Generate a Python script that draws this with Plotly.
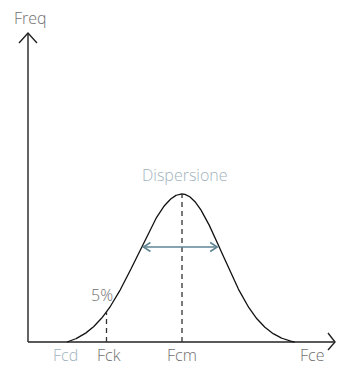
import numpy as np
import plotly.graph_objects as go

# Characteristic values of the strength distribution (arbitrary units, origin at axes corner)
fcd = 39.0          # design strength (lower end of curve)
fck = 78.5          # characteristic strength (5% fractile)
fcm = 154.0         # mean strength
fce = 266.5         # upper end of curve
peak = 148.0        # peak frequency
sigma_left = 44.0
sigma_right = 40.0
spread_level = 95.0  # height of the dispersion arrow

x_axis_end = 307.0
y_axis_end = 309.0
head = 9.0           # axis arrow head size
small_head = 7.0     # dispersion arrow head size

tick_names = ["Fcd", "Fck", "Fcm", "Fce"]
tick_colors = ["#9fb3bd", "#707070", "#707070", "#707070"]


def density(x):
    """Split normal, shifted so it reaches zero at fcd and fce."""
    s = np.where(x < fcm, sigma_left, sigma_right)
    end = np.where(x < fcm, fcm - fcd, fce - fcm)
    g = np.exp(-(x - fcm) ** 2 / (2 * s ** 2))
    c = np.exp(-end ** 2 / (2 * s ** 2))
    return peak * (g - c) / (1 - c)


def crossing(level, side):
    xs = np.linspace(fcd, fcm, 2000) if side < 0 else np.linspace(fcm, fce, 2000)
    ys = density(xs)
    return float(xs[np.argmin(np.abs(ys - level))])


xs = np.linspace(fcd, fce, 600)
ys = density(xs)

fig = go.Figure()
axis_color = "#222222"

# axes with open arrow heads
fig.add_trace(go.Scatter(x=[0, 0, None, -head, 0, head], y=[0, y_axis_end, None, y_axis_end - 10, y_axis_end, y_axis_end - 10],
                         mode="lines", line=dict(color=axis_color, width=1.4), hoverinfo="skip"))
fig.add_trace(go.Scatter(x=[0, x_axis_end, None, x_axis_end - 7, x_axis_end, x_axis_end - 7], y=[0, 0, None, head, 0, -head + 1],
                         mode="lines", line=dict(color=axis_color, width=1.4), hoverinfo="skip"))

# distribution curve
fig.add_trace(go.Scatter(x=xs, y=ys, mode="lines", line=dict(color="#111111", width=1.3), hoverinfo="skip"))

# dashed markers at fck and fcm
dash_style = dict(color="#333333", width=1.3, dash="5px,4px")
fig.add_trace(go.Scatter(x=[fck, fck], y=[0, float(density(np.array([fck]))[0])], mode="lines", line=dash_style, hoverinfo="skip"))
fig.add_trace(go.Scatter(x=[fcm, fcm], y=[0, peak], mode="lines", line=dash_style, hoverinfo="skip"))

# dispersion double arrow
xl = crossing(spread_level, -1) + 2
xr = crossing(spread_level, 1) - 2
arrow_color = "#5f8594"
fig.add_trace(go.Scatter(
    x=[xl, xr, None, xl + small_head, xl, xl + small_head, None, xr - small_head, xr, xr - small_head],
    y=[spread_level, spread_level, None, spread_level + 4.5, spread_level, spread_level - 4.5, None,
       spread_level + 4.5, spread_level, spread_level - 4.5],
    mode="lines", line=dict(color=arrow_color, width=1.6), hoverinfo="skip"))

font = "Open Sans"
fsize = 16
annotations = []
tick_x = [fcd - 2, fck + 2.5, fcm, x_axis_end - 23]
for name, x, col in zip(tick_names, tick_x, tick_colors):
    annotations.append(dict(x=x, y=-13, text=name, showarrow=False, xanchor="center", yanchor="middle",
                            font=dict(family=font, size=fsize, color=col, weight=300)))
annotations.append(dict(x=2, y=324, text="Freq", showarrow=False, xanchor="center", yanchor="middle",
                        font=dict(family=font, size=fsize, color="#707070", weight=300)))
annotations.append(dict(x=fck - 5, y=47, text="5%", showarrow=False, xanchor="center", yanchor="middle",
                        font=dict(family=font, size=fsize, color="#707070", weight=300)))
annotations.append(dict(x=fcm + 3, y=167, text="Dispersione", showarrow=False, xanchor="center", yanchor="middle",
                        font=dict(family=font, size=fsize, color="#9fb3bd", weight=300)))

fig.update_layout(
    width=342, height=365, margin=dict(l=0, r=0, t=0, b=0),
    paper_bgcolor="white", plot_bgcolor="white", showlegend=False,
    xaxis=dict(range=[-28, 314], visible=False, fixedrange=True),
    yaxis=dict(range=[-23, 342], visible=False, fixedrange=True),
    annotations=annotations,
)

fig.write_html("out.html")
